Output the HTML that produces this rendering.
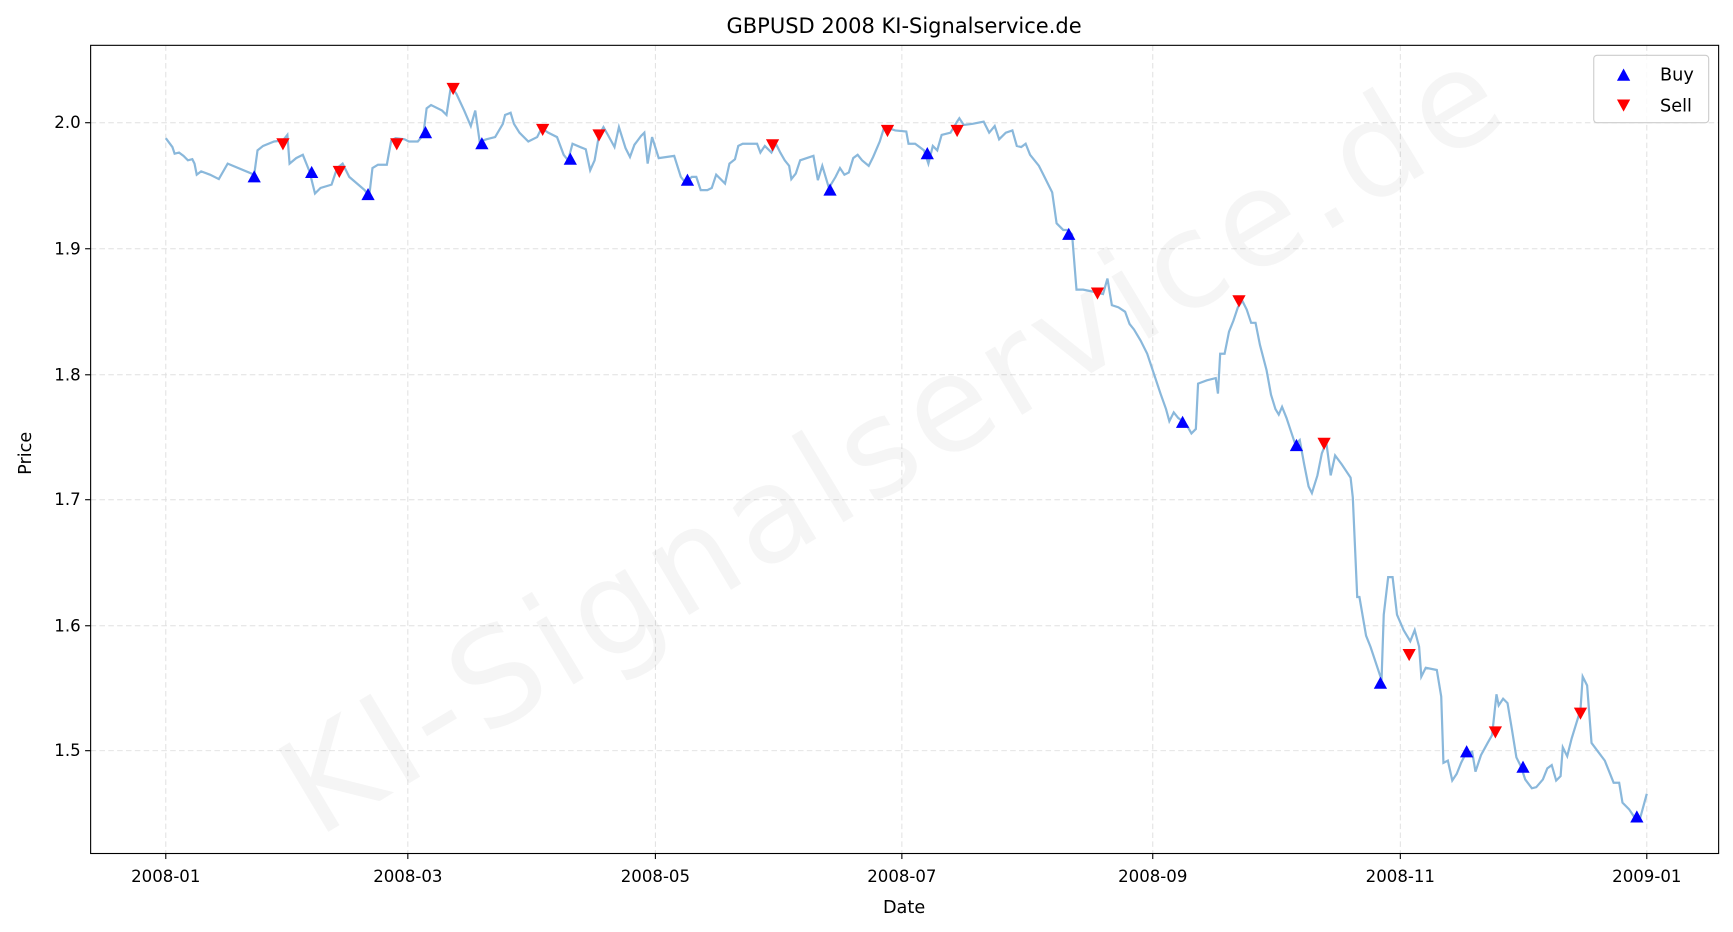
<!DOCTYPE html>
<html><head><meta charset="utf-8"><style>body{margin:0;background:#fff}svg{display:block}text{font-family:"DejaVu Sans","Liberation Sans",sans-serif;fill:#000}</style></head><body>
<svg width="1733" height="932" viewBox="0 0 1568 843" preserveAspectRatio="none" xmlns="http://www.w3.org/2000/svg">
<rect width="1568" height="843" fill="#fff"/>
<g stroke="#e0e0e0" stroke-width="0.9" stroke-dasharray="5,3">
<line x1="150" y1="41" x2="150" y2="772"/><line x1="369" y1="41" x2="369" y2="772"/><line x1="593" y1="41" x2="593" y2="772"/><line x1="816" y1="41" x2="816" y2="772"/><line x1="1043" y1="41" x2="1043" y2="772"/><line x1="1267" y1="41" x2="1267" y2="772"/><line x1="1490" y1="41" x2="1490" y2="772"/>
<line x1="82" y1="111" x2="1555" y2="111"/><line x1="82" y1="225" x2="1555" y2="225"/><line x1="82" y1="339" x2="1555" y2="339"/><line x1="82" y1="452" x2="1555" y2="452"/><line x1="82" y1="566" x2="1555" y2="566"/><line x1="82" y1="679" x2="1555" y2="679"/>
</g>
<text x="0" y="0" transform="translate(827,434) rotate(-31)" text-anchor="middle" font-size="120" textLength="1260" style="fill:#000;fill-opacity:0.04">KI-Signalservice.de</text>
<polyline fill="none" stroke="#8ab8db" stroke-width="2" points="150,125 156,133 158,139 162,138 166,141 170,145 174,144 176,148 178,158 182,155 190,158 198,162 206,148 230,158 233,136 238,132 248,128 256,127 260,122 262,148 268,143 274,140 280,155 285,175 290,170 300,167 305,152 310,148 316,160 330,172 334,178 337,152 342,149 350,149 354,127 358,125 366,126 370,128 378,128 383,122 386,98 390,95 400,100 404,104 408,78 413,85 420,100 426,114 430,100 434,128 440,126 448,124 455,112 457,104 462,102 465,112 470,120 478,128 486,124 490,116 496,120 504,124 510,140 514,145 518,130 525,133 530,135 534,154 538,145 542,122 546,115 550,122 556,133 560,115 566,134 570,142 574,131 580,123 583,120 586,148 590,124 596,143 610,141 616,160 620,165 626,160 630,160 634,172 640,172 644,170 648,158 656,166 660,148 665,144 668,132 672,130 685,130 688,138 692,132 698,138 702,130 706,138 710,145 714,150 716,162 720,157 724,145 736,141 740,163 744,150 750,170 756,160 760,152 764,158 768,156 772,143 776,140 780,145 786,150 790,142 796,128 800,115 804,116 810,118 820,119 822,130 828,130 836,136 840,148 844,132 848,136 852,122 860,120 866,110 868,107 872,113 880,112 890,110 895,120 900,114 904,126 910,120 916,118 920,132 924,133 928,130 932,140 940,150 944,158 948,166 952,174 956,202 962,208 966,208 970,212 974,262 980,262 990,264 998,266 1002,252 1006,276 1012,278 1018,282 1022,293 1026,298 1032,308 1038,320 1044,338 1050,356 1055,370 1058,381 1062,373 1066,378 1070,381 1074,385 1078,392 1082,388 1084,347 1092,344 1100,342 1102,356 1104,320 1108,320 1112,300 1116,290 1120,278 1124,272 1128,280 1132,292 1136,292 1140,312 1146,335 1150,357 1154,370 1157,375 1160,368 1164,378 1168,390 1172,402 1176,398 1180,420 1184,440 1187,446 1192,430 1196,410 1200,400 1204,430 1208,412 1214,420 1222,432 1224,450 1228,540 1230,540 1236,575 1240,585 1246,603 1250,615 1252,556 1256,522 1260,522 1264,556 1270,570 1276,580 1280,570 1284,585 1286,612 1290,604 1300,606 1304,630 1306,690 1310,688 1314,706 1318,700 1322,690 1326,682 1332,680 1335,698 1340,683 1346,672 1350,665 1354,628 1356,638 1360,632 1364,636 1368,660 1372,685 1376,693 1380,705 1386,713 1390,712 1396,705 1400,695 1404,692 1408,706 1412,702 1414,676 1418,684 1422,668 1426,655 1430,642 1432,612 1436,620 1440,672 1446,680 1452,688 1456,698 1460,708 1465,708 1468,726 1474,732 1478,738 1484,740 1490,718"/>
<g fill="#0000ff">
<path d="M0,-6 L6,5 L-6,5Z" transform="translate(230,160)"/>
<path d="M0,-6 L6,5 L-6,5Z" transform="translate(282,156)"/><path d="M0,-6 L6,5 L-6,5Z" transform="translate(333,176)"/><path d="M0,-6 L6,5 L-6,5Z" transform="translate(385,120)"/><path d="M0,-6 L6,5 L-6,5Z" transform="translate(436,130)"/><path d="M0,-6 L6,5 L-6,5Z" transform="translate(516,144)"/><path d="M0,-6 L6,5 L-6,5Z" transform="translate(622,163)"/><path d="M0,-6 L6,5 L-6,5Z" transform="translate(751,172)"/><path d="M0,-6 L6,5 L-6,5Z" transform="translate(839,139)"/><path d="M0,-6 L6,5 L-6,5Z" transform="translate(967,212)"/><path d="M0,-6 L6,5 L-6,5Z" transform="translate(1070,382)"/><path d="M0,-6 L6,5 L-6,5Z" transform="translate(1173,403)"/><path d="M0,-6 L6,5 L-6,5Z" transform="translate(1249,618)"/><path d="M0,-6 L6,5 L-6,5Z" transform="translate(1327,680)"/><path d="M0,-6 L6,5 L-6,5Z" transform="translate(1378,694)"/><path d="M0,-6 L6,5 L-6,5Z" transform="translate(1481,739)"/>
</g>
<g fill="#ff0000">
<path d="M0,6 L6,-5 L-6,-5Z" transform="translate(256,130)"/><path d="M0,6 L6,-5 L-6,-5Z" transform="translate(307,155)"/><path d="M0,6 L6,-5 L-6,-5Z" transform="translate(359,130)"/><path d="M0,6 L6,-5 L-6,-5Z" transform="translate(410,80)"/><path d="M0,6 L6,-5 L-6,-5Z" transform="translate(491,117)"/><path d="M0,6 L6,-5 L-6,-5Z" transform="translate(542,122)"/><path d="M0,6 L6,-5 L-6,-5Z" transform="translate(699,131)"/><path d="M0,6 L6,-5 L-6,-5Z" transform="translate(803,118)"/><path d="M0,6 L6,-5 L-6,-5Z" transform="translate(866,118)"/><path d="M0,6 L6,-5 L-6,-5Z" transform="translate(993,265)"/><path d="M0,6 L6,-5 L-6,-5Z" transform="translate(1121,272)"/><path d="M0,6 L6,-5 L-6,-5Z" transform="translate(1198,401)"/><path d="M0,6 L6,-5 L-6,-5Z" transform="translate(1275,592)"/><path d="M0,6 L6,-5 L-6,-5Z" transform="translate(1353,662)"/><path d="M0,6 L6,-5 L-6,-5Z" transform="translate(1430,645)"/>
</g>
<rect x="82" y="41" width="1473" height="731" fill="none" stroke="#000" stroke-width="1"/>
<rect x="1442" y="50" width="104" height="61" rx="3" fill="#fff" fill-opacity="0.8" stroke="#ccc"/>
<path d="M0,-6 L6,5 L-6,5Z" transform="translate(1469,68)" fill="#0000ff"/>
<path d="M0,6 L6,-5 L-6,-5Z" transform="translate(1469,95)" fill="#ff0000"/>
<text x="1502" y="73" font-size="16">Buy</text>
<text x="1502" y="101" font-size="16">Sell</text>
<g stroke="#000"><line x1="150" y1="772" x2="150" y2="777"/><line x1="369" y1="772" x2="369" y2="777"/><line x1="593" y1="772" x2="593" y2="777"/><line x1="816" y1="772" x2="816" y2="777"/><line x1="1043" y1="772" x2="1043" y2="777"/><line x1="1267" y1="772" x2="1267" y2="777"/><line x1="1490" y1="772" x2="1490" y2="777"/>
<line x1="77" y1="111" x2="82" y2="111"/><line x1="77" y1="225" x2="82" y2="225"/><line x1="77" y1="339" x2="82" y2="339"/><line x1="77" y1="452" x2="82" y2="452"/><line x1="77" y1="566" x2="82" y2="566"/><line x1="77" y1="679" x2="82" y2="679"/></g>
<g font-size="15" text-anchor="middle"><text x="150" y="798">2008-01</text><text x="369" y="798">2008-03</text><text x="593" y="798">2008-05</text><text x="816" y="798">2008-07</text><text x="1043" y="798">2008-09</text><text x="1267" y="798">2008-11</text><text x="1490" y="798">2009-01</text></g>
<g font-size="15" text-anchor="end"><text x="73" y="116">2.0</text><text x="73" y="230">1.9</text><text x="73" y="344">1.8</text><text x="73" y="457">1.7</text><text x="73" y="571">1.6</text><text x="73" y="684">1.5</text></g>
<text x="818" y="826" font-size="16" text-anchor="middle">Date</text>
<text x="0" y="0" transform="translate(28,410) rotate(-90)" font-size="16" text-anchor="middle">Price</text>
<text x="818" y="30" font-size="19" text-anchor="middle">GBPUSD 2008 KI-Signalservice.de</text>
</svg>
</body></html>
